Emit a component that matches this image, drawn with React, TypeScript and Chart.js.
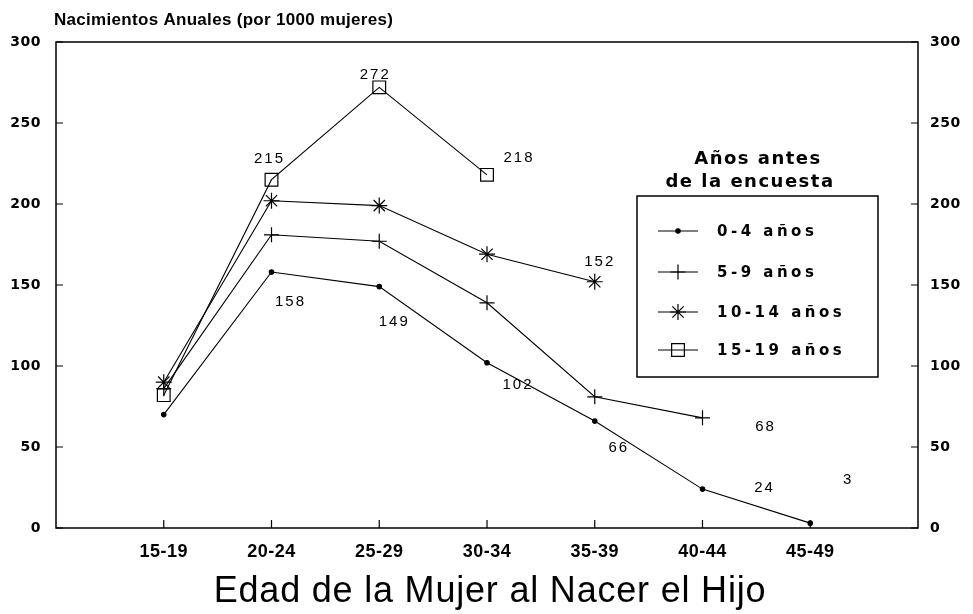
import { useEffect, useRef } from 'react';
import { Chart, registerables } from 'chart.js';
import { drawPoint } from 'chart.js/helpers';

Chart.register(...registerables);

const categories = ['15-19', '20-24', '25-29', '30-34', '35-39', '40-44', '45-49'];
const seriesNames = ['0-4 años', '5-9 años', '10-14 años', '15-19 años'];
const rates0to4 = [70, 158, 149, 102, 66, 24, 3];
const rates5to9 = [86, 181, 177, 139, 81, 68];
const rates10to14 = [90, 202, 199, 169, 152];
const rates15to19 = [82, 215, 272, 218];
const yTicks = [0, 50, 100, 150, 200, 250, 300];

const titleText = 'Nacimientos Anuales (por 1000 mujeres)';
const xTitleText = 'Edad de la Mujer al Nacer el Hijo';
const legendTitle = ['Años antes', 'de la encuesta'];

// which points get a value label, with label offsets in px
const valueLabels = [
  { s: 3, i: 1, dx: -3, dy: -21 },
  { s: 3, i: 2, dx: -5, dy: -13 },
  { s: 3, i: 3, dx: 31, dy: -17 },
  { s: 2, i: 4, dx: 4, dy: -20 },
  { s: 1, i: 5, dx: 62, dy: 9 },
  { s: 0, i: 1, dx: 18, dy: 30 },
  { s: 0, i: 2, dx: 14, dy: 35 },
  { s: 0, i: 3, dx: 30, dy: 22 },
  { s: 0, i: 4, dx: 23, dy: 27 },
  { s: 0, i: 5, dx: 61, dy: -1 },
  { s: 0, i: 6, dx: 37, dy: -43 },
];

const allSeries = [rates0to4, rates5to9, rates10to14, rates15to19];
const markerStyles: any[] = [
  { pointStyle: 'circle', radius: 2.2, fill: '#000' },
  { pointStyle: 'cross', radius: 7.5, fill: 'transparent' },
  { pointStyle: 'star', radius: 8, fill: 'transparent' },
  { pointStyle: 'rect', radius: 9, fill: 'transparent' },
];

const SANS = '"Liberation Sans", Arial, sans-serif';
const DEJAVU = '"DejaVu Sans", sans-serif';

const decorPlugin = {
  id: 'decor',
  beforeDraw(chart: any) {
    const ctx = chart.ctx;
    ctx.save();
    ctx.fillStyle = '#fff';
    ctx.fillRect(0, 0, chart.width, chart.height);
    ctx.restore();
    (ctx as any).letterSpacing = '0.5px';
  },
  afterDraw(chart: any) {
    const ctx = chart.ctx as CanvasRenderingContext2D;
    const ca = chart.chartArea;
    const xs = chart.scales.x;
    const ys = chart.scales.y;
    ctx.save();
    ctx.strokeStyle = '#000';
    ctx.fillStyle = '#000';
    // frame
    ctx.lineWidth = 1.5;
    ctx.strokeRect(ca.left, ca.top, ca.right - ca.left, ca.bottom - ca.top);
    // inward ticks
    ctx.lineWidth = 1.2;
    ctx.beginPath();
    categories.forEach((_, i) => {
      const px = xs.getPixelForValue(i + 1);
      ctx.moveTo(px, ca.bottom);
      ctx.lineTo(px, ca.bottom - 8);
    });
    yTicks.forEach((v) => {
      const py = ys.getPixelForValue(v);
      ctx.moveTo(ca.left, py);
      ctx.lineTo(ca.left + 7, py);
      ctx.moveTo(ca.right, py);
      ctx.lineTo(ca.right - 7, py);
    });
    ctx.stroke();

    // value labels
    (ctx as any).letterSpacing = '2px';
    ctx.font = `15px ${SANS}`;
    ctx.textAlign = 'center';
    ctx.textBaseline = 'middle';
    valueLabels.forEach((l) => {
      const el = chart.getDatasetMeta(l.s).data[l.i];
      const val = allSeries[l.s][l.i];
      ctx.fillText(String(val), el.x + l.dx + 1, el.y + l.dy);
    });

    // chart title
    (ctx as any).letterSpacing = '0.3px';
    ctx.font = `bold 17px ${SANS}`;
    ctx.textAlign = 'left';
    ctx.fillText(titleText, 54, 20);

    // x axis title
    (ctx as any).letterSpacing = '0.8px';
    ctx.font = `36px ${SANS}`;
    ctx.textAlign = 'center';
    ctx.fillText(xTitleText, 490, 592);

    // legend title
    (ctx as any).letterSpacing = '1.5px';
    ctx.font = `bold 18px ${DEJAVU}`;
    ctx.fillText(legendTitle[0], 758, 159);
    ctx.fillText(legendTitle[1], 750, 182);

    // legend box
    ctx.lineWidth = 1.5;
    ctx.strokeRect(637, 196, 241, 181);
    const entryY = [231, 272, 312, 350];
    ctx.font = `bold 15px ${DEJAVU}`;
    ctx.textAlign = 'left';
    (ctx as any).letterSpacing = '3.5px';
    seriesNames.forEach((name, k) => {
      const y = entryY[k];
      ctx.lineWidth = 1.2;
      ctx.strokeStyle = '#000';
      ctx.beginPath();
      ctx.moveTo(658, y);
      ctx.lineTo(698, y);
      ctx.stroke();
      const m = markerStyles[k];
      ctx.fillStyle = m.fill;
      ctx.lineWidth = 1.2;
      drawPoint(ctx, { pointStyle: m.pointStyle, radius: m.radius, rotation: 0, borderWidth: 1.2 } as any, 678, y);
      ctx.fillStyle = '#000';
      ctx.fillText(name, 717, y + 1);
    });
    ctx.restore();
  },
};

export default function App() {
  const ref = useRef<HTMLCanvasElement>(null);
  useEffect(() => {
    if (!ref.current) return;
    const datasets = allSeries.map((arr, k) => ({
      label: seriesNames[k],
      data: arr.map((v, i) => ({ x: i + 1, y: v })),
      borderColor: '#000',
      borderWidth: 1.1,
      pointStyle: markerStyles[k].pointStyle,
      pointRadius: markerStyles[k].radius,
      pointBorderWidth: 1.2,
      pointBorderColor: '#000',
      pointBackgroundColor: markerStyles[k].fill,
      tension: 0,
      fill: false,
    }));
    const tickFontY = { family: DEJAVU, weight: 'bold' as const, size: 14 };
    const chart = new Chart(ref.current, {
      type: 'line',
      data: { datasets },
      plugins: [decorPlugin],
      options: {
        animation: false,
        responsive: false,
        layout: { padding: { top: 42, left: 0, right: 0, bottom: 0 } },
        plugins: { legend: { display: false }, tooltip: { enabled: false }, title: { display: false } },
        scales: {
          x: {
            type: 'linear',
            min: 0,
            max: 8,
            position: 'bottom',
            afterBuildTicks: (s: any) => {
              s.ticks = categories.map((_, i) => ({ value: i + 1 }));
            },
            afterFit: (s: any) => {
              s.height = 86;
            },
            ticks: {
              callback: (v: any) => categories[Number(v) - 1] ?? '',
              font: { family: SANS, weight: 'bold', size: 18 },
              color: '#000',
              padding: 13,
              maxRotation: 0,
              autoSkip: false,
            },
            grid: { display: false, drawTicks: false },
            border: { display: false },
          },
          y: {
            min: 0,
            max: 300,
            position: 'left',
            afterBuildTicks: (s: any) => {
              s.ticks = yTicks.map((v) => ({ value: v }));
            },
            afterFit: (s: any) => {
              s.width = 56;
            },
            ticks: { font: tickFontY, color: '#000', padding: 15 },
            grid: { display: false, drawTicks: false },
            border: { display: false },
          },
          y2: {
            min: 0,
            max: 300,
            position: 'right',
            afterBuildTicks: (s: any) => {
              s.ticks = yTicks.map((v) => ({ value: v }));
            },
            afterFit: (s: any) => {
              s.width = 55;
            },
            ticks: { font: tickFontY, color: '#000', padding: 12 },
            grid: { display: false, drawTicks: false },
            border: { display: false },
          },
        },
      } as any,
    });
    return () => chart.destroy();
  }, []);
  return (
    <div style={{ position: 'fixed', left: 0, top: 0, width: 973, height: 614, background: '#fff' }}>
      <canvas ref={ref} width={973} height={614} />
    </div>
  );
}
